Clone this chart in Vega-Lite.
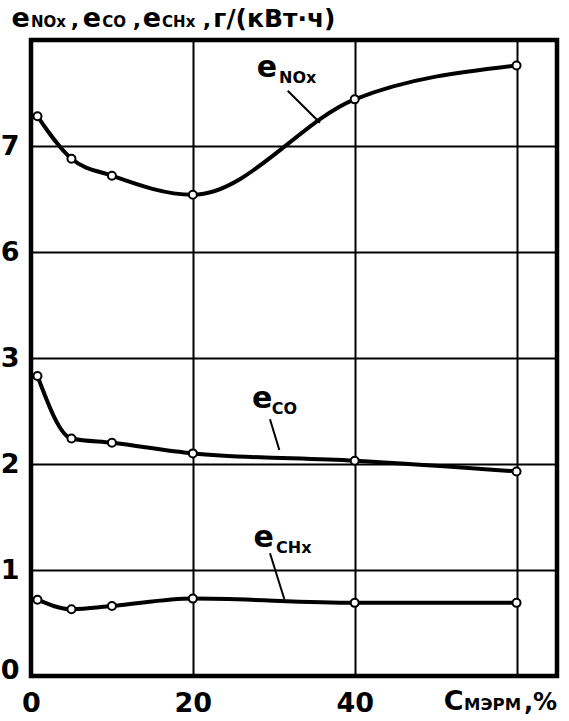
{
  "$schema": "https://vega.github.io/schema/vega-lite/v6.json",
  "width": 526,
  "height": 636,
  "autosize": {"type": "none"},
  "padding": {"left": 31, "top": 40, "right": 12, "bottom": 45},
  "background": "white",
  "config": {
    "view": {"stroke": "black", "strokeWidth": 4.5},
    "axis": {
      "domain": false,
      "ticks": false,
      "grid": true,
      "gridColor": "black",
      "gridWidth": 2,
      "gridOpacity": 1,
      "labelFont": "DejaVu Sans",
      "labelFontWeight": "bold",
      "labelFontSize": 27,
      "labelColor": "black"
    },
    "text": {"font": "DejaVu Sans", "fontWeight": "bold", "color": "black", "align": "left", "baseline": "alphabetic"}
  },
  "datasets": {
    "series": [
      {"x": 0.8, "y": 7.28, "s": "NOx"},
      {"x": 5, "y": 6.88, "s": "NOx"},
      {"x": 10, "y": 6.72, "s": "NOx"},
      {"x": 20, "y": 6.54, "s": "NOx"},
      {"x": 40, "y": 7.44, "s": "NOx"},
      {"x": 60, "y": 7.76, "s": "NOx"},
      {"x": 0.8, "y": 2.83, "s": "CO"},
      {"x": 5, "y": 2.24, "s": "CO"},
      {"x": 10, "y": 2.2, "s": "CO"},
      {"x": 20, "y": 2.1, "s": "CO"},
      {"x": 40, "y": 2.03, "s": "CO"},
      {"x": 60, "y": 1.93, "s": "CO"},
      {"x": 0.8, "y": 0.72, "s": "CHx"},
      {"x": 5, "y": 0.63, "s": "CHx"},
      {"x": 10, "y": 0.66, "s": "CHx"},
      {"x": 20, "y": 0.73, "s": "CHx"},
      {"x": 40, "y": 0.69, "s": "CHx"},
      {"x": 60, "y": 0.69, "s": "CHx"}
    ],
    "leaders": [
      {"x": 31.72, "y": 7.522, "x2": 35.71, "y2": 7.22},
      {"x": 29.53, "y": 2.422, "x2": 30.69, "y2": 2.132},
      {"x": 29.53, "y": 1.158, "x2": 31.3, "y2": 0.726}
    ],
    "labels": [
      {"x": -2.4, "y": 8.118, "text": "e", "kind": "eT"},
      {"x": 0.0, "y": 8.118, "text": "NOx", "kind": "subT"},
      {"x": 4.91, "y": 8.118, "text": ",", "kind": "comma"},
      {"x": 6.4, "y": 8.118, "text": "e", "kind": "eT"},
      {"x": 8.8, "y": 8.118, "text": "CO", "kind": "subT"},
      {"x": 12.57, "y": 8.118, "text": ",", "kind": "comma"},
      {"x": 13.8, "y": 8.118, "text": "e", "kind": "eT"},
      {"x": 16.2, "y": 8.118, "text": "CHx", "kind": "subT"},
      {"x": 21.22, "y": 8.118, "text": ",", "kind": "comma"},
      {"x": 22.53, "y": 8.118, "text": "г/(кВт·ч)", "kind": "unit"},
      {"x": 27.9, "y": 7.651, "text": "e", "kind": "e"},
      {"x": 30.65, "y": 7.594, "text": "NOx", "kind": "subP"},
      {"x": 27.3, "y": 2.528, "text": "e", "kind": "e"},
      {"x": 29.74, "y": 2.472, "text": "CO", "kind": "subP"},
      {"x": 27.5, "y": 1.217, "text": "e", "kind": "e"},
      {"x": 30.28, "y": 1.163, "text": "CHx", "kind": "subP"},
      {"x": 51.0, "y": -0.321, "text": "С", "kind": "big"},
      {"x": 53.51, "y": -0.321, "text": "МЭРМ", "kind": "subX"},
      {"x": 60.92, "y": -0.321, "text": ",%", "kind": "pct"}
    ]
  },
  "encoding": {
    "x": {
      "field": "x",
      "type": "quantitative",
      "scale": {"domain": [0, 65], "nice": false, "zero": false},
      "axis": {
        "values": [0, 20, 40, 60],
        "labelExpr": "datum.value == 60 ? '' : datum.label",
        "labelPadding": 14,
        "labelFlush": false,
        "tickSize": 0,
        "title": null
      }
    },
    "y": {
      "field": "y",
      "type": "quantitative",
      "scale": {"domain": [0, 3, 6, 8], "range": [636, 318, 212, 0], "nice": false, "zero": false},
      "axis": {
        "values": [0, 1, 2, 3, 6, 7],
        "labelPadding": 12,
        "labelFlush": true,
        "labelFlushOffset": 8,
        "tickSize": 0,
        "title": null
      }
    }
  },
  "layer": [
    {
      "data": {"name": "series"},
      "mark": {"type": "line", "interpolate": "monotone", "strokeWidth": 4, "color": "black"},
      "encoding": {"detail": {"field": "s"}}
    },
    {
      "data": {"name": "series"},
      "mark": {"type": "point", "shape": "circle", "size": 64, "filled": true, "fill": "white", "stroke": "black", "strokeWidth": 2, "opacity": 1}
    },
    {
      "data": {"name": "leaders"},
      "mark": {"type": "rule", "strokeWidth": 2, "color": "black"},
      "encoding": {"x2": {"field": "x2"}, "y2": {"field": "y2"}}
    },
    {
      "data": {"name": "labels"},
      "transform": [{"filter": "datum.kind == 'e'"}],
      "mark": {"type": "text", "fontSize": 30},
      "encoding": {"text": {"field": "text"}}
    },
    {
      "data": {"name": "labels"},
      "transform": [{"filter": "datum.kind == 'eT'"}],
      "mark": {"type": "text", "fontSize": 27},
      "encoding": {"text": {"field": "text"}}
    },
    {
      "data": {"name": "labels"},
      "transform": [{"filter": "datum.kind == 'big'"}],
      "mark": {"type": "text", "fontSize": 27},
      "encoding": {"text": {"field": "text"}}
    },
    {
      "data": {"name": "labels"},
      "transform": [{"filter": "datum.kind == 'subT'"}],
      "mark": {"type": "text", "fontSize": 15},
      "encoding": {"text": {"field": "text"}}
    },
    {
      "data": {"name": "labels"},
      "transform": [{"filter": "datum.kind == 'subP'"}],
      "mark": {"type": "text", "fontSize": 16},
      "encoding": {"text": {"field": "text"}}
    },
    {
      "data": {"name": "labels"},
      "transform": [{"filter": "datum.kind == 'subX'"}],
      "mark": {"type": "text", "fontSize": 16.5},
      "encoding": {"text": {"field": "text"}}
    },
    {
      "data": {"name": "labels"},
      "transform": [{"filter": "datum.kind == 'comma'"}],
      "mark": {"type": "text", "fontSize": 22},
      "encoding": {"text": {"field": "text"}}
    },
    {
      "data": {"name": "labels"},
      "transform": [{"filter": "datum.kind == 'unit'"}],
      "mark": {"type": "text", "fontSize": 25},
      "encoding": {"text": {"field": "text"}}
    },
    {
      "data": {"name": "labels"},
      "transform": [{"filter": "datum.kind == 'pct'"}],
      "mark": {"type": "text", "fontSize": 24},
      "encoding": {"text": {"field": "text"}}
    }
  ]
}
